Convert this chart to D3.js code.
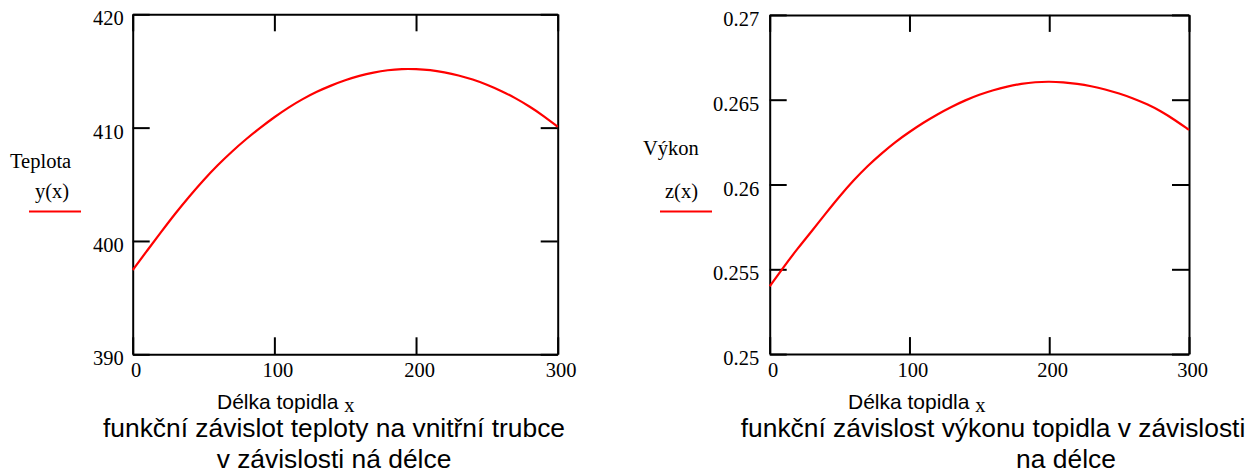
<!DOCTYPE html>
<html>
<head>
<meta charset="utf-8">
<script src="https://cdn.jsdelivr.net/npm/d3@7"></script>
<style>
  html, body { margin: 0; padding: 0; background: #fff; }
  svg { display: block; }
</style>
</head>
<body>
<svg id="chart" width="1260" height="473"></svg>
<script>
// ---- data ----
const xValues = [0, 10, 20, 30, 40, 50, 60, 70, 80, 90, 100, 110, 120, 130, 140, 150,
                 160, 170, 180, 190, 200, 210, 220, 230, 240, 250, 260, 270, 280, 290, 300];
const teplota = [397.44, 399.12, 400.78, 402.42, 403.94, 405.38, 406.70, 407.89, 408.99, 409.99,
                 410.93, 411.79, 412.53, 413.18, 413.72, 414.19, 414.58, 414.87, 415.08, 415.18,
                 415.17, 415.09, 414.89, 414.62, 414.26, 413.80, 413.25, 412.62, 411.88, 411.05, 410.07];
const vykon = [0.25400, 0.25514, 0.25623, 0.25724, 0.25829, 0.25931, 0.26025, 0.26110, 0.26183, 0.26252,
               0.26310, 0.26365, 0.26414, 0.26458, 0.26497, 0.26530, 0.26557, 0.26578, 0.26594, 0.26604,
               0.26607, 0.26603, 0.26594, 0.26580, 0.26561, 0.26537, 0.26508, 0.26474, 0.26432, 0.26380, 0.26322];
const xTicks = [0, 100, 200, 300];
const yTicksLeft = [390, 400, 410, 420];
const yTicksRight = [0.25, 0.255, 0.26, 0.265, 0.27];

const svg = d3.select("#chart");
const serif = "'Liberation Serif', 'Times New Roman', serif";
const sans = "'Liberation Sans', Arial, sans-serif";
const serifSize = "20.5px";

function panel(cfg) {
  const x = d3.scaleLinear().domain([0, 300]).range([cfg.left, cfg.right]);
  const y = d3.scaleLinear().domain(cfg.yDomain).range([cfg.bottom, cfg.top]);
  const g = svg.append("g");
  const T = 17;

  const styleAxis = sel => {
    sel.selectAll("path.domain").attr("stroke", "#000").attr("stroke-width", 2);
    sel.selectAll(".tick line").attr("stroke", "#000").attr("stroke-width", 2);
    sel.selectAll("text").attr("fill", "#000").style("font-family", serif).style("font-size", serifSize);
  };

  // bottom
  g.append("g").attr("transform", `translate(0,${cfg.bottom})`)
    .call(d3.axisBottom(x).tickValues(xTicks).tickSize(-T).tickSizeOuter(0).tickPadding(8.5).tickFormat(d3.format("d")))
    .call(styleAxis)
    .call(s => s.selectAll("text").attr("dx", 3));
  // top
  g.append("g").attr("transform", `translate(0,${cfg.top})`)
    .call(d3.axisTop(x).tickValues(xTicks).tickSize(-T).tickSizeOuter(0).tickFormat(""))
    .call(styleAxis);
  // left
  g.append("g").attr("transform", `translate(${cfg.left},0)`)
    .call(d3.axisLeft(y).tickValues(cfg.yTicks).tickSize(-T).tickSizeOuter(0).tickPadding(cfg.pad).tickFormat(cfg.fmt))
    .call(styleAxis)
    .call(s => s.selectAll("text").attr("dy", 10.5));
  // right
  g.append("g").attr("transform", `translate(${cfg.right},0)`)
    .call(d3.axisRight(y).tickValues(cfg.yTicks).tickSize(-T).tickSizeOuter(0).tickFormat(""))
    .call(styleAxis);

  // curve
  const line = d3.line().x((d, i) => x(xValues[i])).y(d => y(d)).curve(d3.curveBasis);
  g.append("path").datum(cfg.values)
    .attr("d", line).attr("fill", "none").attr("stroke", "#ff0000").attr("stroke-width", 2.2);

  // y label + legend
  g.append("text").attr("x", cfg.ylabX).attr("y", cfg.ylabY).text(cfg.ylab)
    .style("font-family", serif).style("font-size", serifSize);
  g.append("text").attr("x", cfg.legX).attr("y", 198).text(cfg.leg)
    .style("font-family", serif).style("font-size", serifSize);
  g.append("line").attr("x1", cfg.legLine[0]).attr("x2", cfg.legLine[1])
    .attr("y1", 211.5).attr("y2", 211.5).attr("stroke", "#ff0000").attr("stroke-width", 2);

  // x label
  const xl = g.append("text").attr("x", cfg.xlabX).attr("y", 409)
    .style("font-family", sans).style("font-size", "21px");
  xl.append("tspan").text("Délka topidla ");
  xl.append("tspan").attr("dy", 3).text("x").style("font-family", serif).style("font-size", serifSize);

  // caption
  cfg.caption.forEach(c => {
    g.append("text").attr("x", c.x).attr("y", c.y).attr("text-anchor", "middle").text(c.t)
      .style("font-family", sans).style("font-size", "26.4px");
  });
}

panel({
  left: 132.7, right: 557.7, top: 14.3, bottom: 354.3,
  yDomain: [390, 420], yTicks: yTicksLeft, fmt: d3.format("d"), pad: 9,
  values: teplota,
  ylab: "Teplota", ylabX: 10, ylabY: 168,
  leg: "y(x)", legX: 35, legLine: [29, 81],
  xlabX: 217,
  caption: [
    { t: "funkční závislot teploty na vnitřní trubce", x: 334, y: 437 },
    { t: "v závislosti ná délce", x: 334, y: 468 }
  ]
});

panel({
  left: 769.7, right: 1189, top: 14.9, bottom: 354.1,
  yDomain: [0.25, 0.27], yTicks: yTicksRight, fmt: d => String(+d.toFixed(3)), pad: 10.5,
  values: vykon,
  ylab: "Výkon", ylabX: 643, ylabY: 155,
  leg: "z(x)", legX: 665, legLine: [660, 712],
  xlabX: 848,
  caption: [
    { t: "funkční závislost výkonu topidla v závislosti", x: 993, y: 437 },
    { t: "na délce", x: 1066, y: 468 }
  ]
});
</script>
</body>
</html>
